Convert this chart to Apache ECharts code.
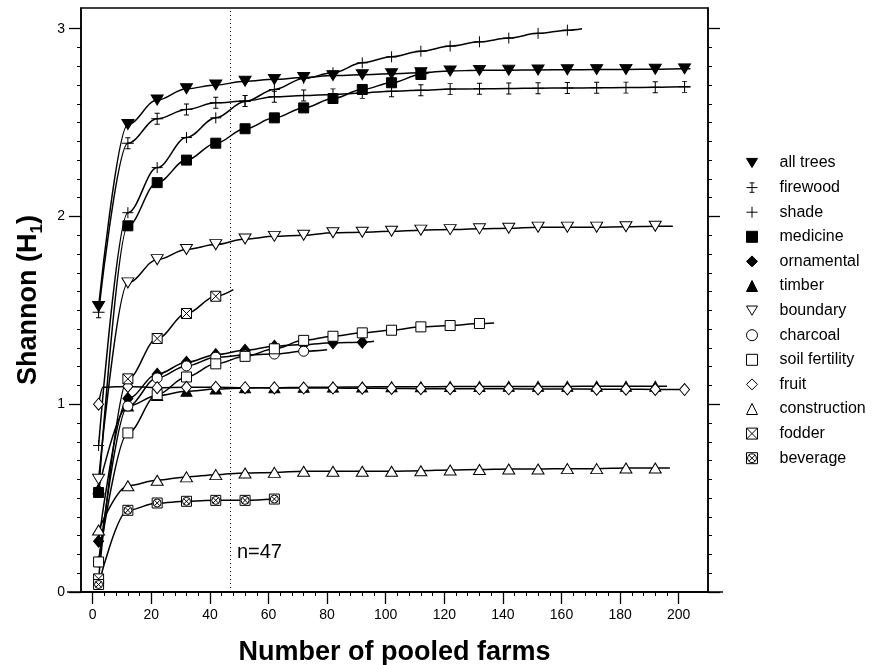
<!DOCTYPE html>
<html>
<head>
<meta charset="utf-8">
<script src="https://cdn.jsdelivr.net/npm/echarts@6/dist/echarts.min.js"></script>
<style>
  html, body { margin: 0; background: #fff; }
  #chart { width: 885px; height: 665px; }
</style>
</head>
<body>
<div id="chart"></div>
<script>
// pooled farm counts where the points sit
var farms = [2, 12, 22, 32, 42, 52, 62, 72, 82, 92, 102, 112, 122, 132, 142, 152, 162, 172, 182, 192, 202];

// Shannon H1
var allTrees = [1.52, 2.49, 2.62, 2.68, 2.70, 2.72, 2.73, 2.74, 2.75, 2.755, 2.76, 2.765, 2.775, 2.778, 2.779, 2.78, 2.781, 2.782, 2.783, 2.784, 2.786];
var firewood = [1.49, 2.39, 2.52, 2.57, 2.605, 2.615, 2.637, 2.644, 2.65, 2.658, 2.667, 2.672, 2.678, 2.68, 2.681, 2.683, 2.684, 2.685, 2.686, 2.688, 2.69];
var shade = [0.78, 2.02, 2.26, 2.42, 2.525, 2.612, 2.676, 2.735, 2.765, 2.818, 2.85, 2.88, 2.907, 2.93, 2.95, 2.975, 2.992];
var medicine = [0.53, 1.95, 2.18, 2.30, 2.39, 2.467, 2.525, 2.578, 2.628, 2.676, 2.712, 2.756];
var ornamental = [0.27, 1.03, 1.16, 1.223, 1.264, 1.287, 1.309, 1.318, 1.327, 1.33];
var timber = [0.55, 0.99, 1.046, 1.069, 1.081, 1.087, 1.088, 1.09, 1.091, 1.092, 1.093, 1.093, 1.094, 1.094, 1.095, 1.095, 1.095, 1.096, 1.096, 1.096];
var boundary = [0.60, 1.646, 1.77, 1.824, 1.85, 1.88, 1.894, 1.90, 1.913, 1.916, 1.921, 1.927, 1.93, 1.934, 1.937, 1.943, 1.943, 1.943, 1.945, 1.948];
var charcoal = [0.16, 0.99, 1.14, 1.204, 1.25, 1.262, 1.267, 1.282];
var soilFertility = [0.16, 0.847, 1.051, 1.145, 1.215, 1.255, 1.295, 1.34, 1.362, 1.38, 1.394, 1.412, 1.419, 1.43];
var fruit = [1.0, 1.095, 1.088, 1.09, 1.09, 1.088, 1.087, 1.086, 1.086, 1.085, 1.084, 1.083, 1.083, 1.082, 1.082, 1.081, 1.081, 1.08, 1.08, 1.079, 1.078];
var construction = [0.33, 0.566, 0.595, 0.613, 0.625, 0.634, 0.637, 0.643, 0.643, 0.643, 0.643, 0.646, 0.65, 0.652, 0.655, 0.655, 0.657, 0.657, 0.66, 0.66];
var fodder = [0.07, 1.135, 1.35, 1.483, 1.575];
var beverage = [0.04, 0.435, 0.474, 0.483, 0.488, 0.488, 0.495];

// where a fitted curve runs on past its last point
var curveEnds = {
  'shade': [167, 3.0],
  'medicine': [115, 2.768],
  'ornamental': [96, 1.335],
  'timber': [196, 1.096],
  'boundary': [198, 1.948],
  'charcoal': [80, 1.29],
  'soil fertility': [137, 1.433],
  'construction': [197, 0.66],
  'fodder': [48, 1.61],
  'all trees': [204, 2.786],
  'firewood': [204, 2.69]
};
var fruitCorner = [3.5, 1.09];

var xMajor = [0, 20, 40, 60, 80, 100, 120, 140, 160, 180, 200];
var yMajor = [0, 1, 2, 3];
var xMinor = [];
xMajor.forEach(function (v) { if (v < 200) { for (var k = 4; k < 20; k += 4) xMinor.push(v + k); } });
var yMinor = [];
for (var i = 1; i < 31; i++) { if (i % 10) yMinor.push(i / 10); }

var cutoff = 47;

var FONT = '"Liberation Sans", Arial, sans-serif';

var triDown = 'path://M0,0L12,0L6,10Z';
var barCross = 'path://M4,0L10,0M7,0L7,12M4,12L10,12M0,6L14,6';
var plus = 'path://M6,0L6,12M0,6L12,6';
var boxX = 'path://M0,0L10,0L10,10L0,10ZM0,0L10,10M10,0L0,10';
var circX = 'path://M0,0L10,0L10,10L0,10ZM9,5A4,4,0,1,1,1,5A4,4,0,1,1,9,5ZM2.2,2.2L7.8,7.8M7.8,2.2L2.2,7.8';

var defs = [
  { name: 'all trees', vals: allTrees, symbol: triDown, size: [12, 10], fill: '#000' },
  { name: 'firewood', vals: firewood, symbol: barCross, size: [12, 11], fill: '#000' },
  { name: 'shade', vals: shade, symbol: plus, size: [11, 11], fill: '#000' },
  { name: 'medicine', vals: medicine, symbol: 'rect', size: 10, fill: '#000' },
  { name: 'ornamental', vals: ornamental, symbol: 'diamond', size: [10, 12], fill: '#000' },
  { name: 'timber', vals: timber, symbol: 'triangle', size: [11, 10], fill: '#000' },
  { name: 'boundary', vals: boundary, symbol: triDown, size: [12, 10], fill: '#fff' },
  { name: 'charcoal', vals: charcoal, symbol: 'circle', size: 10, fill: '#fff' },
  { name: 'soil fertility', vals: soilFertility, symbol: 'rect', size: 10, fill: '#fff' },
  { name: 'fruit', vals: fruit, symbol: 'diamond', size: [10, 12], fill: '#fff' },
  { name: 'construction', vals: construction, symbol: 'triangle', size: [12, 10], fill: '#fff' },
  { name: 'fodder', vals: fodder, symbol: boxX, size: 10, fill: '#fff' },
  { name: 'beverage', vals: beverage, symbol: circX, size: 10, fill: '#fff' }
];

function points(name, vals) {
  var d = vals.map(function (v, i) { return [farms[i], v]; });
  if (name === 'fruit') d.splice(1, 0, { value: fruitCorner, symbol: 'none' });
  if (curveEnds[name]) d.push({ value: curveEnds[name], symbol: 'none' });
  return d;
}

var series = defs.map(function (s) {
  return {
    name: s.name,
    type: 'line',
    data: points(s.name, s.vals),
    smooth: 0.35,
    smoothMonotone: 'x',
    symbol: s.symbol,
    symbolSize: s.size,
    showAllSymbol: true,
    lineStyle: { color: '#000', width: 1.5 },
    itemStyle: { color: s.fill, borderColor: '#000', borderWidth: 1 },
    emphasis: { disabled: true },
    animation: false
  };
});

series[0].markLine = {
  silent: true,
  symbol: ['none', 'none'],
  label: { show: false },
  lineStyle: { color: '#000', width: 1, type: [1, 3] },
  data: [{ xAxis: cutoff }]
};
series[0].markPoint = {
  silent: true,
  symbol: 'circle',
  symbolSize: 0,
  label: { show: true, position: 'right', formatter: 'n=' + cutoff, fontSize: 20, color: '#000', fontFamily: FONT },
  data: [{ coord: [cutoff + 0.5, 0.21] }]
};

var chart = echarts.init(document.getElementById('chart'), null, { renderer: 'canvas' });
chart.setOption({
  backgroundColor: '#fff',
  animation: false,
  grid: {
    left: 81, right: 177, top: 8, bottom: 73,
    show: true, borderColor: '#000', borderWidth: 1.5,
    containLabel: false, outerBoundsMode: 'none'
  },
  legend: {
    orient: 'vertical',
    left: 741,
    top: 150,
    itemWidth: 11,
    itemHeight: 11,
    itemGap: 8.6,
    selectedMode: false,
    textStyle: { fontSize: 16, color: '#000', fontFamily: FONT, lineHeight: 16, padding: [0, 0, 0, 17] },
    data: defs.map(function (s) {
      return {
        name: s.name,
        icon: s.symbol,
        itemStyle: { color: s.fill, borderColor: '#000', borderWidth: 1 }
      };
    })
  },
  xAxis: [
    {
      type: 'value', position: 'bottom', min: -4, max: 210,
      axisLine: { show: true, onZero: false, lineStyle: { color: '#000', width: 1.5 } },
      axisTick: { show: true, customValues: xMajor, length: 12, lineStyle: { color: '#000', width: 1.3 } },
      axisLabel: { customValues: xMajor, margin: 16, fontSize: 14, color: '#000', fontFamily: FONT },
      splitLine: { show: false },
      name: 'Number of pooled farms',
      nameLocation: 'middle',
      nameGap: 47,
      nameTextStyle: { fontSize: 27, fontWeight: 'bold', color: '#000', fontFamily: FONT }
    },
    {
      type: 'value', position: 'bottom', min: -4, max: 210,
      axisLine: { show: false, onZero: false },
      axisTick: { show: true, customValues: xMinor, length: 4, lineStyle: { color: '#000', width: 1 } },
      axisLabel: { show: false },
      splitLine: { show: false }
    }
  ],
  yAxis: [
    {
      type: 'value', position: 'left', min: 0, max: 3.11,
      axisLine: { show: true, onZero: false, lineStyle: { color: '#000', width: 1.5 } },
      axisTick: { show: true, customValues: yMajor, length: 12, lineStyle: { color: '#000', width: 1.3 } },
      axisLabel: { customValues: yMajor, margin: 16, fontSize: 14, color: '#000', fontFamily: FONT },
      splitLine: { show: false },
      name: '{a|Shannon (H}{b|1}{a|)}',
      nameLocation: 'middle',
      nameRotate: 90,
      nameGap: 35,
      nameTextStyle: {
        color: '#000',
        rich: {
          a: { fontSize: 27, fontWeight: 'bold', fontFamily: FONT, color: '#000', lineHeight: 31, verticalAlign: 'top' },
          b: { fontSize: 17, fontWeight: 'bold', fontFamily: FONT, color: '#000', lineHeight: 17, verticalAlign: 'bottom' }
        }
      }
    },
    {
      type: 'value', position: 'left', min: 0, max: 3.11,
      axisLine: { show: false, onZero: false },
      axisTick: { show: true, customValues: yMinor, length: 4, lineStyle: { color: '#000', width: 1 } },
      axisLabel: { show: false },
      splitLine: { show: false }
    },
    {
      type: 'value', position: 'right', min: 0, max: 3.11,
      axisLine: { show: true, onZero: false, lineStyle: { color: '#000', width: 1.5 } },
      axisTick: { show: true, customValues: yMajor, length: 12, lineStyle: { color: '#000', width: 1.3 } },
      axisLabel: { show: false },
      splitLine: { show: false }
    },
    {
      type: 'value', position: 'right', min: 0, max: 3.11,
      axisLine: { show: false, onZero: false },
      axisTick: { show: true, customValues: yMinor, length: 4, lineStyle: { color: '#000', width: 1 } },
      axisLabel: { show: false },
      splitLine: { show: false }
    }
  ],
  graphic: [
    { type: 'line', silent: true, shape: { x1: 67, y1: 592, x2: 723, y2: 592 }, style: { stroke: '#000', lineWidth: 1.5 } }
  ],
  series: series
});
</script>
</body>
</html>
